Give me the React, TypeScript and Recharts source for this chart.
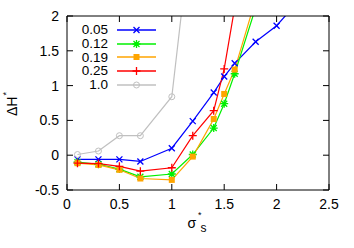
import { LineChart, Line, XAxis, YAxis, Legend, Label } from "recharts";

// concentration of each curve (legend text)
const names = ["0.05", "0.12", "0.19", "0.25", "1.0"];

// sigma*_s positions and Delta H* values, one pair of arrays per curve
const x005 = [0.1, 0.3, 0.5, 0.7, 1.0, 1.2, 1.4, 1.5, 1.6, 1.8, 2.0, 2.2];
const y005 = [-0.06, -0.06, -0.06, -0.09, 0.1, 0.49, 0.9, 1.13, 1.32, 1.63, 1.86, 2.2];

const x012 = [0.1, 0.3, 0.5, 0.7, 1.0, 1.2, 1.4, 1.5, 1.6, 1.8];
const y012 = [-0.1, -0.13, -0.2, -0.31, -0.27, 0.01, 0.39, 0.74, 1.17, 2.12];

const x019 = [0.1, 0.3, 0.5, 0.7, 1.0, 1.2, 1.4, 1.5, 1.6, 1.8];
const y019 = [-0.115, -0.14, -0.21, -0.335, -0.355, -0.02, 0.52, 0.88, 1.23, 2.24];

const x025 = [0.1, 0.3, 0.5, 0.7, 1.0, 1.2, 1.4, 1.5, 1.6];
const y025 = [-0.115, -0.12, -0.16, -0.23, -0.18, 0.28, 0.64, 1.24, 2.12];

const x100 = [0.1, 0.3, 0.5, 0.7, 1.0, 1.2];
const y100 = [0.01, 0.06, 0.28, 0.28, 0.84, 3.45];

const xTicks = [0, 0.5, 1, 1.5, 2, 2.5];
const yTicks = [-0.5, 0, 0.5, 1, 1.5, 2];

const FONT = "'Liberation Sans', Arial, sans-serif";

const zip = (xs: number[], ys: number[]) => xs.map((x, i) => ({ x, y: ys[i] }));

type Shape = "cross" | "star" | "square" | "plus" | "circle";

const series: { name: string; color: string; shape: Shape; data: { x: number; y: number }[] }[] = [
  { name: names[0], color: "#0000ff", shape: "cross", data: zip(x005, y005) },
  { name: names[1], color: "#00f000", shape: "star", data: zip(x012, y012) },
  { name: names[2], color: "#ffa500", shape: "square", data: zip(x019, y019) },
  { name: names[3], color: "#ff0000", shape: "plus", data: zip(x025, y025) },
  { name: names[4], color: "#c0c0c0", shape: "circle", data: zip(x100, y100) },
];

const Marker = ({ cx, cy, shape, color }: { cx: number; cy: number; shape: Shape; color: string }) => {
  const s = 3;
  if (shape === "square")
    return <rect x={cx - s} y={cy - s} width={2 * s} height={2 * s} fill={color} />;
  if (shape === "circle")
    return <circle cx={cx} cy={cy} r={s} fill="none" stroke={color} strokeWidth={1} />;
  const cross = `M${cx - s},${cy - s}L${cx + s},${cy + s}M${cx - s},${cy + s}L${cx + s},${cy - s}`;
  const plus = `M${cx - s - 1},${cy}L${cx + s + 1},${cy}M${cx},${cy - s - 1}L${cx},${cy + s + 1}`;
  const d = shape === "cross" ? cross : shape === "plus" ? plus : cross + plus;
  return <path d={d} stroke={color} strokeWidth={1.3} fill="none" />;
};

const LegendBox = () => (
  <div style={{ fontFamily: FONT, fontSize: 13.5, color: "#000" }}>
    {series.map((s) => (
      <div key={s.name} style={{ display: "flex", alignItems: "center", height: 13.75 }}>
        <span style={{ width: 38, textAlign: "right", lineHeight: "13.75px" }}>{s.name}</span>
        <svg width={50} height={14} style={{ display: "block" }}>
          <line x1={9} x2={48} y1={7} y2={7} stroke={s.color} strokeWidth={1.5} />
          <Marker cx={28.5} cy={7} shape={s.shape} color={s.color} />
        </svg>
      </div>
    ))}
  </div>
);

const tickStyle = { fill: "#000", fontSize: 14, fontFamily: FONT };
const noLabel = () => "";

export default function App() {
  return (
    <div style={{ position: "absolute", left: 0, top: 0, width: 354, height: 248, background: "#fff" }}>
      <LineChart width={354} height={248} margin={{ top: 15, right: 24, left: 0, bottom: 0 }}>
        <XAxis
          xAxisId="b"
          type="number"
          dataKey="x"
          domain={[0, 2.5]}
          ticks={xTicks}
          height={58}
          tickSize={-6}
          tickMargin={15}
          tick={tickStyle}
          axisLine={{ stroke: "#000" }}
          tickLine={{ stroke: "#000" }}
          allowDataOverflow
        >
          <Label
            content={({ viewBox }: any) => (
              <text x={viewBox.x + viewBox.width / 2 - 1} y={228} fontFamily={FONT} fontSize={14} fill="#000" textAnchor="middle">
                σ
                <tspan fontSize={9} dy={-10} dx={2}>*</tspan>
                <tspan fontSize={12} dy={14} dx={-1}>s</tspan>
              </text>
            )}
          />
        </XAxis>
        <XAxis
          xAxisId="t"
          orientation="top"
          type="number"
          dataKey="x"
          domain={[0, 2.5]}
          ticks={xTicks}
          interval={0}
          height={1}
          tickSize={-6}
          tickFormatter={noLabel}
          axisLine={{ stroke: "#000" }}
          tickLine={{ stroke: "#000" }}
          allowDataOverflow
        />
        <YAxis
          yAxisId="l"
          type="number"
          dataKey="y"
          domain={[-0.5, 2]}
          ticks={yTicks}
          width={67}
          tickSize={-6}
          tickMargin={14}
          tick={tickStyle}
          axisLine={{ stroke: "#000" }}
          tickLine={{ stroke: "#000" }}
          allowDataOverflow
        >
          <Label
            content={({ viewBox }: any) => (
              <text
                transform={`translate(17, ${viewBox.y + viewBox.height / 2 + 13}) rotate(-90)`}
                fontFamily={FONT}
                fontSize={14}
                fill="#000"
              >
                ΔH
                <tspan fontSize={9} dy={-8} dx={1}>*</tspan>
              </text>
            )}
          />
        </YAxis>
        <YAxis
          yAxisId="r"
          orientation="right"
          type="number"
          dataKey="y"
          domain={[-0.5, 2]}
          ticks={yTicks}
          interval={0}
          width={1}
          tickSize={-6}
          tickFormatter={noLabel}
          axisLine={{ stroke: "#000" }}
          tickLine={{ stroke: "#000" }}
          allowDataOverflow
        />
        <Legend
          layout="vertical"
          align="center"
          verticalAlign="middle"
          content={() => <LegendBox />}
          wrapperStyle={{ left: 70, top: 23, width: 120, height: 70 }}
        />
        {series.map((s) => (
          <Line
            key={s.name}
            name={s.name}
            data={s.data}
            dataKey="y"
            xAxisId="b"
            yAxisId="l"
            type="linear"
            stroke={s.color}
            strokeWidth={1.2}
            isAnimationActive={false}
            dot={(p: any) => <Marker key={`${s.name}-${p.index}`} cx={p.cx} cy={p.cy} shape={s.shape} color={s.color} />}
            activeDot={false}
          />
        ))}
      </LineChart>
    </div>
  );
}
